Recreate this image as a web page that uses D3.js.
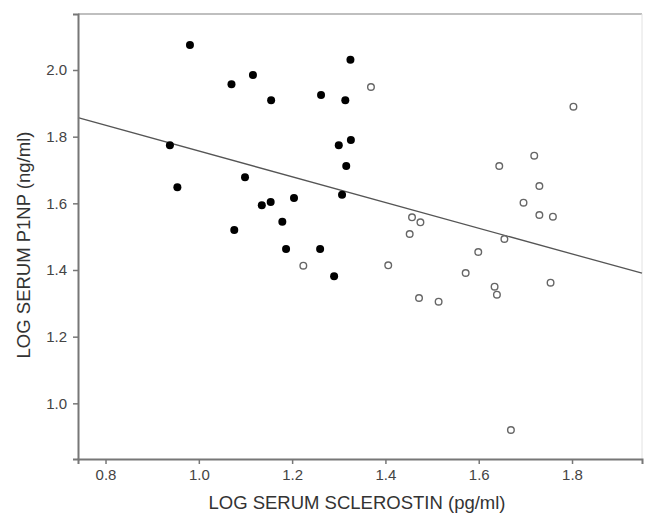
<!DOCTYPE html>
<html>
<head>
<meta charset="utf-8">
<script src="https://cdn.jsdelivr.net/npm/d3@7"></script>
<style>
  body { margin: 0; background: #fff; }
  text { font-family: "Liberation Sans", Arial, sans-serif; }
</style>
</head>
<body>
<svg id="chart" width="646" height="513"></svg>
<script>
// filled points (group 1)
const filledX = [0.938, 0.954, 0.981, 1.070, 1.076, 1.099, 1.116, 1.135, 1.154, 1.155, 1.179, 1.187, 1.204, 1.260, 1.262, 1.290, 1.300, 1.307, 1.314, 1.316, 1.325, 1.326]
const filledY = [1.774, 1.648, 2.075, 1.957, 1.520, 1.678, 1.985, 1.594, 1.604, 1.909, 1.545, 1.463, 1.616, 1.463, 1.925, 1.381, 1.774, 1.626, 1.909, 1.712, 2.031, 1.790]
// open points (group 2)
const openX = [1.224, 1.369, 1.406, 1.452, 1.457, 1.475, 1.472, 1.514, 1.572, 1.599, 1.634, 1.639, 1.644, 1.655, 1.669, 1.696, 1.719, 1.730, 1.730, 1.754, 1.759, 1.803]
const openY = [1.413, 1.949, 1.414, 1.508, 1.558, 1.543, 1.316, 1.305, 1.391, 1.454, 1.350, 1.326, 1.712, 1.493, 0.920, 1.602, 1.743, 1.652, 1.565, 1.362, 1.560, 1.890]
// fit line: y = intercept + slope * x
const fitIntercept = 2.143
const fitSlope = -0.386
const xTicks = [0.8, 1.0, 1.2, 1.4, 1.6, 1.8]
const yTicks = [1.0, 1.2, 1.4, 1.6, 1.8, 2.0]
const xTitle = 'LOG SERUM SCLEROSTIN (pg/ml)'
const yTitle = 'LOG SERUM P1NP (ng/ml)'

const d3 = window.d3
const margin = {top: 14, right: 4, bottom: 54, left: 78}
const fullWidth = 646
const fullHeight = 513
const width = fullWidth - margin.left - margin.right
const height = fullHeight - margin.top - margin.bottom

const x = d3.scaleLinear().domain([0.741, 1.950]).range([0, width])
const y = d3.scaleLinear().domain([0.833, 2.168]).range([height, 0])

const svg = d3.select('#chart')
const g = svg.append('g')
  .attr('transform', 'translate(' + margin.left + ',' + margin.top + ')')

// frame: top and right lighter
g.append('line').attr('x1', 0).attr('x2', width).attr('y1', 0).attr('y2', 0)
  .attr('stroke', '#aaa').attr('stroke-width', 1.5)
g.append('line').attr('x1', width).attr('x2', width).attr('y1', 0).attr('y2', height)
  .attr('stroke', '#e2e2e2').attr('stroke-width', 1)

// regression line
const fitLine = d3.line().x(d => x(d)).y(d => y(fitIntercept + fitSlope * d))
g.append('path')
  .datum(x.domain())
  .attr('d', fitLine)
  .attr('fill', 'none')
  .attr('stroke', '#555')
  .attr('stroke-width', 1.3)

// points
const filled = filledX.map((v, i) => ({x: v, y: filledY[i]}))
const open = openX.map((v, i) => ({x: v, y: openY[i]}))

g.selectAll('circle.filled')
  .data(filled)
  .enter().append('circle')
  .attr('class', 'filled')
  .attr('cx', d => x(d.x))
  .attr('cy', d => y(d.y))
  .attr('r', 4)
  .attr('fill', '#000')

g.selectAll('circle.open')
  .data(open)
  .enter().append('circle')
  .attr('class', 'open')
  .attr('cx', d => x(d.x))
  .attr('cy', d => y(d.y))
  .attr('r', 3.3)
  .attr('fill', '#fff')
  .attr('stroke', '#666')
  .attr('stroke-width', 1.4)

// axes
const xAxis = g.append('g')
  .attr('transform', 'translate(0,' + height + ')')
  .call(d3.axisBottom(x).tickValues(xTicks).tickFormat(d3.format('.1f')).tickSizeOuter(0).tickSize(5).tickPadding(5))
const yAxis = g.append('g')
  .call(d3.axisLeft(y).tickValues(yTicks).tickFormat(d3.format('.1f')).tickSizeOuter(0).tickSize(5).tickPadding(6))

;[xAxis, yAxis].forEach(a => {
  a.select('.domain').attr('stroke', '#777').attr('stroke-width', 2)
  a.selectAll('.tick line').attr('stroke', '#777').attr('stroke-width', 1.5)
  a.selectAll('.tick text').attr('fill', '#444').style('font-size', '15px')
    .style('font-family', '"Liberation Sans", Arial, sans-serif')
})

// axis titles
svg.append('text')
  .attr('x', 357)
  .attr('y', 509)
  .attr('text-anchor', 'middle')
  .attr('fill', '#333')
  .style('font-size', '18.5px')
  .text(xTitle)

svg.append('text')
  .attr('transform', 'translate(29.5,' + 245 + ') rotate(-90)')
  .attr('text-anchor', 'middle')
  .attr('fill', '#333')
  .style('font-size', '18.5px')
  .text(yTitle)
</script>
</body>
</html>
